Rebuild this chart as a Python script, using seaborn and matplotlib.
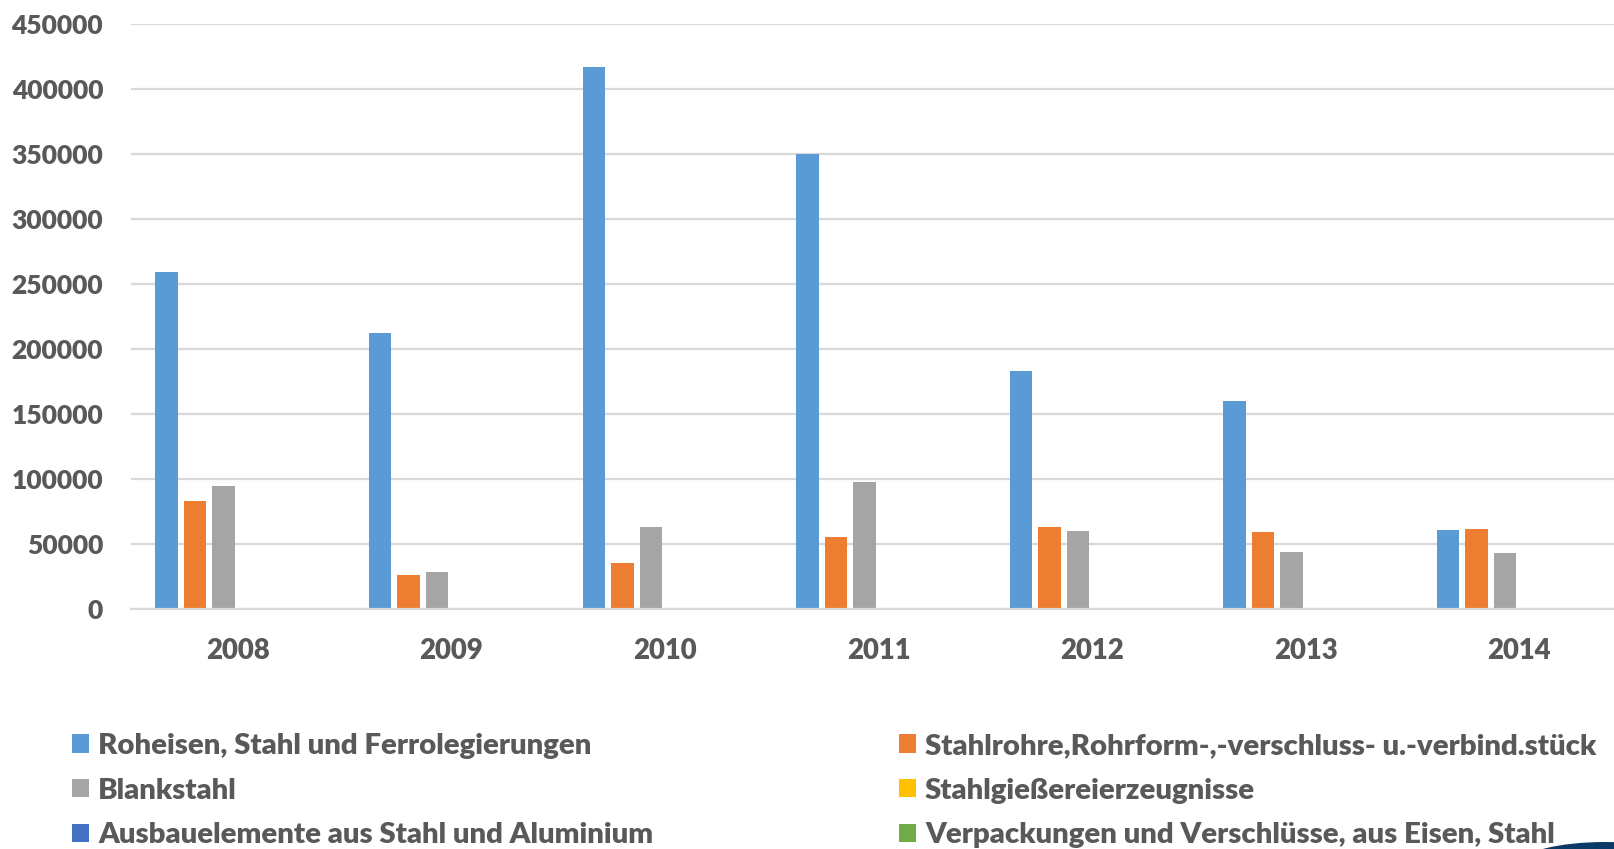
import matplotlib
matplotlib.use("Agg")
import matplotlib.pyplot as plt
from matplotlib.patches import Ellipse, Patch
import seaborn as sns
import pandas as pd
import numpy as np

years = ["2008", "2009", "2010", "2011", "2012", "2013", "2014"]
series_names = [
    "Roheisen, Stahl und Ferrolegierungen",
    "Stahlrohre,Rohrform-,-verschluss- u.-verbind.stück",
    "Blankstahl",
    "Stahlgießereierzeugnisse",
    "Ausbauelemente aus Stahl und Aluminium",
    "Verpackungen und Verschlüsse, aus Eisen, Stahl",
]
roheisen = [259000, 212000, 417000, 350000, 182700, 159800, 60800]
stahlrohre = [83300, 26000, 35600, 55400, 63200, 59200, 61500]
blankstahl = [94600, 28300, 62800, 97700, 60000, 44200, 43300]
stahlguss = [0, 0, 0, 0, 0, 0, 0]
ausbau = [0, 0, 0, 0, 0, 0, 0]
verpackungen = [0, 0, 0, 0, 0, 0, 0]
colors = ["#5B9BD5", "#ED7D31", "#A5A5A5", "#FFC000", "#4472C4", "#70AD47"]
yticks = [0, 50000, 100000, 150000, 200000, 250000, 300000, 350000, 400000, 450000]

all_series = [roheisen, stahlrohre, blankstahl, stahlguss, ausbau, verpackungen]
rows = []
for name, vals in zip(series_names, all_series):
    for y, v in zip(years, vals):
        rows.append({"Jahr": y, "Serie": name, "Wert": v})
df = pd.DataFrame(rows)

sns.set_theme(style="white")
plt.rcParams["font.family"] = ["Lato", "DejaVu Sans"]
WEIGHT = "heavy"
plt.rcParams["font.weight"] = WEIGHT
TXT = "#595959"

W, H = 1614, 849
fig = plt.figure(figsize=(W / 100, H / 100), dpi=100)
ax_left, ax_right = 131, 131 + 7 * 213.6
ax_top, ax_bottom = 24, 609
ax = fig.add_axes([ax_left / W, 1 - ax_bottom / H, (ax_right - ax_left) / W, (ax_bottom - ax_top) / H])

sns.barplot(data=df, x="Jahr", y="Wert", hue="Serie", hue_order=series_names,
            palette=colors, saturation=1, order=years, width=0.8, gap=0.21,
            linewidth=0, errorbar=None, ax=ax, legend=False)

ax.set_ylim(0, 450000)
ax.set_xlim(-0.5, 6.5)
ax.set_yticks(yticks)
ax.set_yticklabels([str(v) for v in yticks])
ax.yaxis.grid(True, color="#D9D9D9", linewidth=1.6)
ax.set_axisbelow(True)
for s in ["top", "right", "left"]:
    ax.spines[s].set_visible(False)
ax.spines["bottom"].set_color("#D9D9D9")
ax.spines["bottom"].set_linewidth(1.6)
ax.set_xlabel("")
ax.set_ylabel("")
ax.tick_params(axis="y", length=0, pad=20, labelsize=19, labelcolor=TXT)
ax.tick_params(axis="x", length=0, pad=21, labelsize=19.8, labelcolor=TXT)
for lbl in ax.get_xticklabels() + ax.get_yticklabels():
    lbl.set_fontweight(WEIGHT)

handles = [Patch(facecolor=c, edgecolor="none") for c in colors]
col1 = [0, 2, 4]
col2 = [1, 3, 5]
common = dict(frameon=False, fontsize=21.2, labelcolor=TXT, handlelength=0.58,
              handleheight=0.58, handletextpad=0.3, labelspacing=0.63,
              borderpad=0, borderaxespad=0, loc="upper left")
leg1 = fig.legend([handles[i] for i in col1], [series_names[i] for i in col1],
                  bbox_to_anchor=(72 / W, 1 - 733 / H), **common)
leg2 = fig.legend([handles[i] for i in col2], [series_names[i] for i in col2],
                  bbox_to_anchor=(899 / W, 1 - 733 / H), **common)
for leg in (leg1, leg2):
    for t in leg.get_texts():
        t.set_fontweight(WEIGHT)

# partial logo shape in the bottom-right corner
fig.add_artist(Ellipse((1605 / W, 1 - 864 / H), 170 / W, 44 / H,
                       transform=fig.transFigure, facecolor="#0B3A66",
                       edgecolor="none", zorder=-1))

fig.savefig("out.png", dpi=100, facecolor="white")
